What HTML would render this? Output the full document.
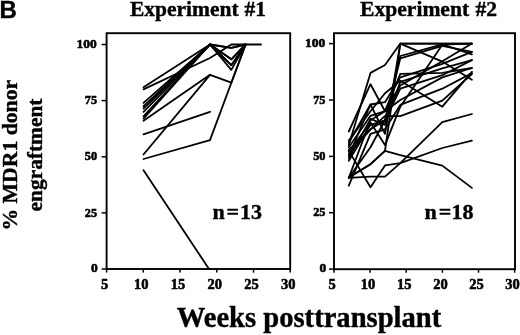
<!DOCTYPE html>
<html><head><meta charset="utf-8"><style>
html,body{margin:0;padding:0;background:#fff;}
svg{display:block;}
text{font-family:"Liberation Serif",serif;font-weight:bold;fill:#000;stroke:#000;stroke-width:0.4px;}
.fr{fill:none;stroke:#000;stroke-width:1.9;}
.tk{stroke:#000;stroke-width:1.5;}
.yl{font-size:13.5px;text-anchor:end;stroke-width:0.6px;}
.xl{font-size:14.5px;text-anchor:middle;stroke-width:0.55px;}
.dl polyline{fill:none;stroke:#000;stroke-width:1.8;stroke-linejoin:round;stroke-linecap:round;}
</style></head><body>
<svg width="520" height="335" viewBox="0 0 520 335">
<rect width="520" height="335" fill="#fff"/>
<text x="-0.6" y="18.3" style="font-family:'Liberation Sans',sans-serif;font-size:24px;">B</text>
<text x="129.9" y="15.8" style="font-size:21.5px;word-spacing:0.5px">Experiment #1</text>
<text x="360.0" y="15.8" style="font-size:21.6px;word-spacing:1px">Experiment #2</text>
<text transform="translate(17.0,155.2) rotate(-90)" text-anchor="middle" style="font-size:21.7px;">% MDR1 donor</text>
<text transform="translate(42.0,155.0) rotate(-90)" text-anchor="middle" style="font-size:21.4px;">engraftment</text>
<text x="309" y="327" text-anchor="middle" style="font-size:28.6px;">Weeks posttransplant</text>
<g style="font-size:22px;">
<text x="212.6" y="219">n</text><text x="226.6" y="219">=</text><text x="239.9" y="219">13</text>
<text x="424.6" y="219.2">n</text><text x="438.8" y="219.2">=</text><text x="451.6" y="219.2">18</text>
</g>
<rect x="106.6" y="33.2" width="183.6" height="235.8" class="fr"/>
<line x1="101.6" y1="269.0" x2="106.6" y2="269.0" class="tk"/>
<text x="97.8" y="271.5" class="yl">0</text>
<line x1="101.6" y1="212.9" x2="106.6" y2="212.9" class="tk"/>
<text transform="translate(97.1,216.5) scale(0.91,1)" class="yl">25</text>
<line x1="101.6" y1="156.8" x2="106.6" y2="156.8" class="tk"/>
<text transform="translate(97.1,160.3) scale(0.91,1)" class="yl">50</text>
<line x1="101.6" y1="100.6" x2="106.6" y2="100.6" class="tk"/>
<text transform="translate(97.1,104.2) scale(0.91,1)" class="yl">75</text>
<line x1="101.6" y1="44.5" x2="106.6" y2="44.5" class="tk"/>
<text x="96.8" y="48.1" class="yl">100</text>
<line x1="106.6" y1="269.0" x2="106.6" y2="272.6" class="tk"/>
<text x="104.6" y="289" class="xl">5</text>
<line x1="143.3" y1="269.0" x2="143.3" y2="272.6" class="tk"/>
<text x="141.3" y="289" class="xl">10</text>
<line x1="180.0" y1="269.0" x2="180.0" y2="272.6" class="tk"/>
<text x="178.0" y="289" class="xl">15</text>
<line x1="216.8" y1="269.0" x2="216.8" y2="272.6" class="tk"/>
<text x="214.8" y="289" class="xl">20</text>
<line x1="253.5" y1="269.0" x2="253.5" y2="272.6" class="tk"/>
<text x="251.5" y="289" class="xl">25</text>
<line x1="290.2" y1="269.0" x2="290.2" y2="272.6" class="tk"/>
<text x="288.2" y="289" class="xl">30</text>
<rect x="334.0" y="33.2" width="181.0" height="236.0" class="fr"/>
<line x1="329.0" y1="269.1" x2="334.0" y2="269.1" class="tk"/>
<text x="326.2" y="271.6" class="yl">0</text>
<line x1="329.0" y1="212.7" x2="334.0" y2="212.7" class="tk"/>
<text transform="translate(325.5,216.3) scale(0.91,1)" class="yl">25</text>
<line x1="329.0" y1="156.4" x2="334.0" y2="156.4" class="tk"/>
<text transform="translate(325.5,160.0) scale(0.91,1)" class="yl">50</text>
<line x1="329.0" y1="100.0" x2="334.0" y2="100.0" class="tk"/>
<text transform="translate(325.5,103.6) scale(0.91,1)" class="yl">75</text>
<line x1="329.0" y1="43.6" x2="334.0" y2="43.6" class="tk"/>
<text x="325.2" y="47.2" class="yl">100</text>
<line x1="334.0" y1="269.1" x2="334.0" y2="272.7" class="tk"/>
<text x="332.0" y="289" class="xl">5</text>
<line x1="370.1" y1="269.1" x2="370.1" y2="272.7" class="tk"/>
<text x="368.1" y="289" class="xl">10</text>
<line x1="406.2" y1="269.1" x2="406.2" y2="272.7" class="tk"/>
<text x="404.2" y="289" class="xl">15</text>
<line x1="442.4" y1="269.1" x2="442.4" y2="272.7" class="tk"/>
<text x="440.4" y="289" class="xl">20</text>
<line x1="478.5" y1="269.1" x2="478.5" y2="272.7" class="tk"/>
<text x="476.5" y="289" class="xl">25</text>
<line x1="514.6" y1="269.1" x2="514.6" y2="272.7" class="tk"/>
<text x="512.6" y="289" class="xl">30</text>
<g class="dl">
<polyline points="143.5,87.2 210.0,44.5 231.3,47.9 245.6,44.5"/>
<polyline points="143.5,89.4 210.0,58.0 231.3,44.5 245.6,44.5 261.0,44.5"/>
<polyline points="143.5,102.9 210.0,44.5 231.3,59.3 245.6,44.5"/>
<polyline points="143.5,106.2 210.0,44.5 231.3,65.2 245.6,44.5"/>
<polyline points="143.5,108.5 210.0,44.5 231.3,69.9 245.6,44.5"/>
<polyline points="143.5,111.8 210.0,44.5 231.3,59.3 245.6,44.5"/>
<polyline points="143.5,116.3 210.0,44.5 231.3,65.2 245.6,44.5"/>
<polyline points="143.5,118.6 210.0,44.5 231.3,47.9 245.6,44.5"/>
<polyline points="143.5,120.8 210.0,74.8 231.3,82.7 245.6,44.5"/>
<polyline points="143.5,134.3 210.0,111.8"/>
<polyline points="143.5,154.5 210.0,74.8"/>
<polyline points="143.5,159.0 210.0,140.1 245.6,44.5"/>
<polyline points="143.5,170.2 209.0,269.0"/>
<polyline points="348.8,145.1 370.5,72.9 385.0,65.0 400.3,43.6 442.3,43.6 471.9,43.6"/>
<polyline points="348.8,131.5 370.5,84.2 385.0,111.2 400.3,73.8 442.3,72.9 471.9,68.0"/>
<polyline points="348.8,156.4 370.5,104.5 385.0,133.8 400.3,43.6 442.3,61.6 471.9,79.7"/>
<polyline points="348.8,160.9 370.5,124.8 385.0,120.3 400.3,56.0 442.3,44.3 471.9,54.4"/>
<polyline points="348.8,149.6 370.5,129.3 385.0,120.3 400.3,58.3 442.3,45.9 471.9,51.9"/>
<polyline points="348.8,151.8 370.5,122.5 385.0,145.1 400.3,106.7 442.3,44.7 471.9,43.6"/>
<polyline points="348.8,147.3 370.5,115.8 385.0,111.2 400.3,85.5 442.3,61.2 471.9,43.6"/>
<polyline points="348.8,177.8 370.5,176.6 385.0,176.6 400.3,163.1 442.3,122.1 471.9,114.0"/>
<polyline points="348.8,177.5 370.5,164.2 385.0,150.9 400.3,155.2 442.3,165.6 471.9,187.9"/>
<polyline points="348.8,150.9 370.5,187.2 385.0,165.4 400.3,163.1 442.3,148.0 471.9,140.6"/>
<polyline points="348.8,140.6 370.5,111.2 385.0,93.2 400.3,80.8 442.3,106.7 471.9,71.8"/>
<polyline points="348.8,142.8 370.5,104.5 385.0,102.2 400.3,77.4 442.3,63.9 471.9,51.9"/>
<polyline points="348.8,158.6 370.5,118.9 385.0,124.8 400.3,81.9 442.3,68.4 471.9,60.1"/>
<polyline points="348.8,177.8 370.5,147.3 385.0,120.3 400.3,88.7 442.3,75.2 471.9,60.1"/>
<polyline points="348.8,177.8 370.5,120.3 385.0,111.2 400.3,100.0 442.3,77.4 471.9,68.0"/>
<polyline points="348.8,185.7 370.5,133.8 385.0,129.3 400.3,104.9 442.3,88.7 471.9,73.1"/>
<polyline points="348.8,177.5 370.5,164.2 385.0,150.9 400.3,43.6 442.3,43.6 471.9,43.6"/>
<polyline points="348.8,154.1 370.5,129.3 385.0,115.8 400.3,116.2 442.3,100.7 471.9,74.0"/>
</g>
</svg>
</body></html>
